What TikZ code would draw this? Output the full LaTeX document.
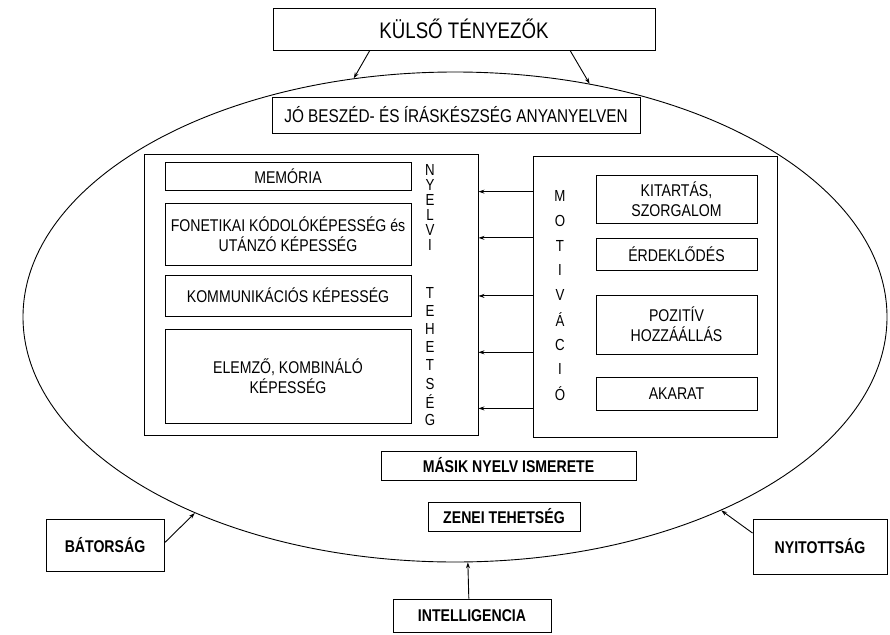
\documentclass[tikz,border=0pt]{standalone}
\usepackage{fontspec}
\setmainfont{Liberation Sans}[FakeStretch=0.83]
\usetikzlibrary{shapes.geometric,arrows.meta,calc}
\tikzset{
  box/.style={draw, line width=0.9pt, inner sep=2pt, align=center},
  txt/.style={font=\fontsize{17}{20}\selectfont},
  btxt/.style={font=\fontsize{17}{20}\selectfont\bfseries},
  vl/.style={font=\fontsize{16}{18}\selectfont, inner sep=0pt},
  arr/.style={line width=0.9pt, -{Stealth[length=6pt,width=4pt]}},
}
\begin{document}
\begin{tikzpicture}[x=1pt,y=-1pt]
\useasboundingbox (0,0) rectangle (890,634);
% outer ellipse
\node[draw, line width=0.9pt, ellipse, minimum width=864pt, minimum height=490pt, inner sep=0pt] (ell) at (455,317) {};
% top
\node[box, minimum width=382pt, minimum height=42pt, font=\fontsize{22.5}{26}\selectfont] (kulso) at (464,29) {KÜLSŐ TÉNYEZŐK};
\node[box, minimum width=368pt, minimum height=36pt, font=\fontsize{18.5}{22}\selectfont] (jo) at (456,115) {JÓ BESZÉD- ÉS ÍRÁSKÉSZSÉG ANYANYELVEN};
% left big box
\node[box, minimum width=334pt, minimum height=281pt] (lb) at (311,294.5) {};
\node[box, txt, minimum width=246pt, minimum height=28pt] (mem) at (288,176) {MEMÓRIA};
\node[box, txt, minimum width=246pt, minimum height=62pt] (fon) at (288,234) {FONETIKAI KÓDOLÓKÉPESSÉG és\\UTÁNZÓ KÉPESSÉG};
\node[box, txt, minimum width=246pt, minimum height=41pt] (kom) at (288,295.5) {KOMMUNIKÁCIÓS KÉPESSÉG};
\node[box, txt, minimum width=246pt, minimum height=94pt] (elem) at (288,376) {ELEMZŐ, KOMBINÁLÓ\\KÉPESSÉG};
\foreach \l [count=\i] in {N,Y,E,L,V,I}
  \node[vl] (ny\i) at (430,170+15*\i-15) {\l};
\foreach \l [count=\i] in {T,E,H,E,T,S,É,G}
  \node[vl] (te\i) at (430,293+18.1*\i-18.1) {\l};
% right big box
\node[box, minimum width=244pt, minimum height=281pt] (rb) at (655,296.5) {};
\foreach \l [count=\i] in {M,O,T,I,V,Á,C,I,Ó}
  \node[vl] (mo\i) at (560,196+24.75*\i-24.75) {\l};
\node[box, txt, minimum width=161pt, minimum height=48pt] (kit) at (676.5,199) {KITARTÁS,\\SZORGALOM};
\node[box, txt, minimum width=161pt, minimum height=32pt] (erd) at (676.5,254) {ÉRDEKLŐDÉS};
\node[box, txt, minimum width=161pt, minimum height=59pt] (poz) at (676.5,324.5) {POZITÍV\\HOZZÁÁLLÁS};
\node[box, txt, minimum width=161pt, minimum height=33pt] (aka) at (676.5,393.5) {AKARAT};
% arrows between the two big boxes
\foreach \f [count=\i] in {0.128,0.292,0.498,0.698,0.897}{
  \coordinate (s\i) at ($(rb.north west)!\f!(rb.south west)$);
  \draw[arr] (s\i) -- (lb.east |- s\i);
}
% lower boxes
\node[box, btxt, minimum width=255pt, minimum height=29pt] (masik) at (508.5,465.5) {MÁSIK NYELV ISMERETE};
\node[box, btxt, minimum width=152pt, minimum height=29pt] (zenei) at (504,516.5) {ZENEI TEHETSÉG};
\node[box, btxt, minimum width=118pt, minimum height=52pt] (bat) at (105,545) {BÁTORSÁG};
\node[box, btxt, minimum width=134pt, minimum height=55pt] (nyit) at (820,546.5) {NYITOTTSÁG};
\node[box, btxt, minimum width=158pt, minimum height=33pt] (intel) at (472,615.5) {INTELLIGENCIA};
% arrows to the ellipse
\draw[arr] ($(kulso.south west)!0.254!(kulso.south east)$) -- (ell.113.4);
\draw[arr] ($(kulso.south west)!0.777!(kulso.south east)$) -- (ell.60.5);
\draw[arr] ($(bat.north east)!0.46!(bat.south east)$) -- (ell.217);
\draw[arr] ($(nyit.north west)!0.26!(nyit.south west)$) -- (ell.324.4);
\draw[arr] ($(intel.north west)!0.48!(intel.north east)$) -- (ell.273.3);
\end{tikzpicture}
\end{document}
